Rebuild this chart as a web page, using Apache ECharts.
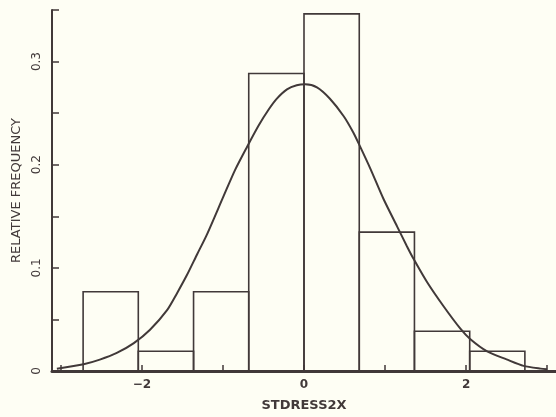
<!DOCTYPE html>
<html>
<head>
<meta charset="utf-8">
<script src="https://cdn.jsdelivr.net/npm/echarts@6/dist/echarts.min.js"></script>
<style>
html,body{margin:0;padding:0;background:#fefef4;}
#c{width:556px;height:417px;}
</style>
</head>
<body>
<div id="c"></div>
<script>
// Histogram bin edges (STDRESS2X) and relative frequencies
const binEdges = [-2.726, -2.045, -1.363, -0.682, 0.0, 0.682, 1.363, 2.045, 2.726];
const relFreq = [0.0769, 0.0192, 0.0769, 0.2885, 0.3462, 0.1346, 0.0385, 0.0192];
// Fitted normal curve
const curveX = [-3.05, -2.72, -2.52, -2.31, -2.10, -1.90, -1.69, -1.57, -1.445, -1.32, -1.20, -0.99, -0.85, -0.705, -0.56, -0.44, -0.335, -0.21, -0.09, 0.015, 0.16, 0.32, 0.49, 0.61, 0.69, 0.82, 0.98, 1.15, 1.27, 1.35, 1.52, 1.72, 1.93, 2.05, 2.26, 2.50, 2.71, 2.92, 3.0];
const curveY = [0.0022, 0.0065, 0.011, 0.0175, 0.027, 0.040, 0.059, 0.075, 0.093, 0.113, 0.132, 0.170, 0.195, 0.217, 0.238, 0.253, 0.264, 0.273, 0.277, 0.278, 0.275, 0.264, 0.247, 0.231, 0.218, 0.196, 0.167, 0.140, 0.121, 0.109, 0.086, 0.063, 0.041, 0.031, 0.019, 0.0113, 0.005, 0.0023, 0.0018];
const xTicks = [-3, -2, -1, 0, 1, 2, 3];
const xLabels = [-2, 0, 2];
const xTitle = 'STDRESS2X';
const yTitle = 'RELATIVE FREQUENCY';

const ink = '#413939';
const font = 'DejaVu Sans';

const binData = relFreq.map((f, i) => [binEdges[i], binEdges[i + 1], f]);
const curveData = curveX.map((x, i) => [x, curveY[i]]);

const chart = echarts.init(document.getElementById('c'));
chart.setOption({
  backgroundColor: '#fefef4',
  animation: false,
  grid: {left: 52, right: 0, top: 10, bottom: 45},
  xAxis: {
    type: 'value', min: -3.11, max: 3.11,
    axisLine: {onZero: false, lineStyle: {color: ink, width: 3}},
    axisTick: {inside: true, length: 6, customValues: xTicks, lineStyle: {color: ink, width: 1.5}},
    axisLabel: {customValues: xLabels, color: ink, fontFamily: font, fontSize: 12, fontWeight: 'bold', margin: 8,
      formatter: v => (v < 0 ? '\u2212' + Math.abs(v) : String(v))},
    splitLine: {show: false},
    name: xTitle, nameLocation: 'middle', nameGap: 28,
    nameTextStyle: {color: ink, fontFamily: font, fontSize: 13, fontWeight: 'bold'}
  },
  yAxis: {
    type: 'value', min: 0, max: 0.35, interval: 0.05,
    axisLine: {show: true, onZero: false, lineStyle: {color: ink, width: 2}},
    axisTick: {show: true, inside: true, length: 7, lineStyle: {color: ink, width: 1.5}},
    axisLabel: {color: ink, fontFamily: font, fontSize: 12, rotate: 90, margin: 9,
      formatter: v => {
        const t = v * 10;
        if (Math.abs(t - Math.round(t)) > 1e-6 || v > 0.31) return '';
        return v === 0 ? '0' : (Math.round(t) / 10).toFixed(1);
      }},
    splitLine: {show: false},
    name: yTitle, nameLocation: 'middle', nameGap: 25, nameRotate: 90,
    nameTextStyle: {color: ink, fontFamily: font, fontSize: 13}
  },
  series: [
    {
      type: 'custom',
      data: binData,
      encode: {x: [0, 1], y: 2},
      z: 2,
      renderItem: function (params, api) {
        const p0 = api.coord([api.value(0), api.value(2)]);
        const p1 = api.coord([api.value(1), 0]);
        return {
          type: 'rect',
          shape: {x: p0[0], y: p0[1], width: p1[0] - p0[0], height: p1[1] - p0[1]},
          style: {fill: 'none', stroke: ink, lineWidth: 1.6}
        };
      }
    },
    {
      type: 'line',
      data: curveData,
      smooth: 0.25,
      showSymbol: false,
      z: 3,
      lineStyle: {color: ink, width: 2}
    }
  ]
});
</script>
</body>
</html>
